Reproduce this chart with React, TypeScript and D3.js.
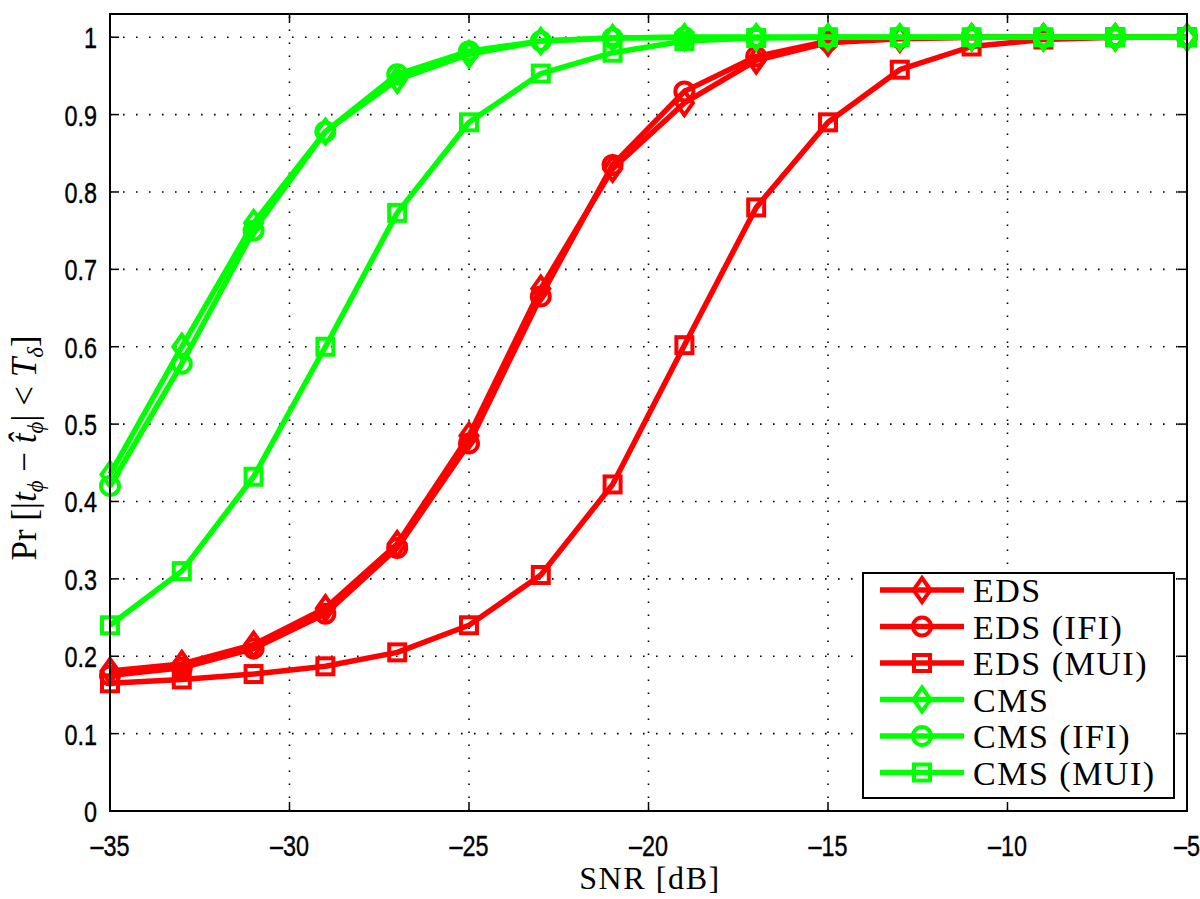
import React from "react";
import * as d3 from "d3";

const snr = [-35, -33, -31, -29, -27, -25, -23, -21, -19, -17, -15, -13, -11, -9, -7, -5];
const eds = [0.181, 0.19, 0.215, 0.262, 0.345, 0.485, 0.675, 0.83, 0.915, 0.97, 0.993, 0.998, 1, 1, 1, 1];
const edsIfi = [0.175, 0.185, 0.21, 0.255, 0.34, 0.475, 0.665, 0.835, 0.93, 0.975, 0.995, 0.999, 1, 1, 1, 1];
const edsMui = [0.165, 0.17, 0.177, 0.187, 0.205, 0.24, 0.305, 0.422, 0.602, 0.78, 0.89, 0.958, 0.988, 0.997, 1, 1];
const cms = [0.435, 0.6, 0.76, 0.878, 0.945, 0.978, 0.995, 0.999, 1, 1, 1, 1, 1, 1, 1, 1];
const cmsIfi = [0.42, 0.578, 0.75, 0.878, 0.952, 0.982, 0.995, 0.999, 1, 1, 1, 1, 1, 1, 1, 1];
const cmsMui = [0.24, 0.31, 0.432, 0.6, 0.773, 0.89, 0.953, 0.98, 0.995, 0.999, 1, 1, 1, 1, 1, 1];

const xTicks = [-35, -30, -25, -20, -15, -10, -5];
const yTicks = [0, 0.1, 0.2, 0.3, 0.4, 0.5, 0.6, 0.7, 0.8, 0.9, 1];

const seriesNames = ["EDS", "EDS (IFI)", "EDS (MUI)", "CMS", "CMS (IFI)", "CMS (MUI)"];
const seriesValues = [eds, edsIfi, edsMui, cms, cmsIfi, cmsMui];
const seriesColors = ["#ff0000", "#ff0000", "#ff0000", "#00ff00", "#00ff00", "#00ff00"];
const seriesMarkers = ["diamond", "circle", "square", "diamond", "circle", "square"];

const W = 1200, H = 899;
const L = 110, R = 1187, T = 14, B = 811;

function Marker({ kind, x, y, color }: { kind: string; x: number; y: number; color: string }) {
  const sw = 4;
  if (kind === "diamond") {
    const p = `M${x},${y - 12}L${x + 8.5},${y}L${x},${y + 12}L${x - 8.5},${y}Z`;
    return <path d={p} fill="none" stroke={color} strokeWidth={sw} strokeLinejoin="miter" />;
  }
  if (kind === "circle") {
    return <circle cx={x} cy={y} r={9} fill="none" stroke={color} strokeWidth={sw} />;
  }
  return <rect x={x - 8} y={y - 8} width={16} height={16} fill="none" stroke={color} strokeWidth={sw} />;
}

export default function App() {
  const x = d3.scaleLinear().domain([-35, -5]).range([L, R]);
  const y = d3.scaleLinear().domain([0, 1.03]).range([B, T]);
  const line = d3.line<number>().x((_, i) => x(snr[i])).y((d) => y(d));

  const legX0 = 863, legY0 = 573, legW = 311, legH = 225;
  const rowY = (i: number) => 590 + i * 36.5;
  const serif = "'Liberation Serif', 'Times New Roman', serif";

  return (
    <svg width={W} height={H} style={{ position: "absolute", left: 0, top: 0, background: "#fff" }}>
      <rect x={0} y={0} width={W} height={H} fill="#fff" />
      {/* grid */}
      <g stroke="#000" strokeWidth={1.6} strokeDasharray="1.6,11.4">
        {xTicks.slice(1, -1).map((t) => (
          <line key={"gx" + t} x1={x(t)} x2={x(t)} y1={B} y2={T} />
        ))}
        {yTicks.slice(1).map((t) => (
          <line key={"gy" + t} x1={L} x2={R} y1={y(t)} y2={y(t)} />
        ))}
      </g>
      {/* ticks */}
      <g stroke="#000" strokeWidth={1.5}>
        {xTicks.map((t) => (
          <g key={"tx" + t}>
            <line x1={x(t)} x2={x(t)} y1={B} y2={B - 9} />
            <line x1={x(t)} x2={x(t)} y1={T} y2={T + 9} />
          </g>
        ))}
        {yTicks.map((t) => (
          <g key={"ty" + t}>
            <line x1={L} x2={L + 9} y1={y(t)} y2={y(t)} />
            <line x1={R} x2={R - 9} y1={y(t)} y2={y(t)} />
          </g>
        ))}
      </g>
      {/* series */}
      {seriesValues.map((vals, si) => (
        <g key={"s" + si}>
          <path d={line(vals) || ""} fill="none" stroke={seriesColors[si]} strokeWidth={5.5} strokeLinejoin="round" />
          {vals.map((v, i) => (
            <Marker key={i} kind={seriesMarkers[si]} x={x(snr[i])} y={y(v)} color={seriesColors[si]} />
          ))}
        </g>
      ))}
      {/* axes box */}
      <rect x={L} y={T} width={R - L} height={B - T} fill="none" stroke="#000" strokeWidth={2} />
      {/* tick labels */}
      <g fontFamily="'Liberation Sans', Arial, sans-serif" fontSize={30} fill="#000" stroke="#000" strokeWidth={0.4}>
        {yTicks.map((t) => (
          <text key={"ly" + t} transform={`translate(97,${y(t) + 11}) scale(0.78,1)`} textAnchor="end">
            {String(t)}
          </text>
        ))}
        {xTicks.map((t) => (
          <text key={"lx" + t} transform={`translate(${x(t)},${B + 45}) scale(0.78,1)`} textAnchor="middle">
            {t < 0 ? "\u2013" + Math.abs(t) : String(t)}
          </text>
        ))}
      </g>
      {/* axis labels */}
      <text x={650} y={889} textAnchor="middle" fontFamily={serif} fontSize={32} letterSpacing={1.6}>
        SNR [dB]
      </text>
      <text transform="translate(36,448) rotate(-90)" textAnchor="middle" fontFamily={serif} fontSize={35}>
        <tspan>Pr [|</tspan>
        <tspan fontStyle="italic">t</tspan>
        <tspan fontStyle="italic" fontSize={23} dy={7}>ϕ</tspan>
        <tspan dy={-7}> − </tspan>
        <tspan fontStyle="italic">t̂</tspan>
        <tspan fontStyle="italic" fontSize={23} dy={7}>ϕ</tspan>
        <tspan dy={-7}>| &lt; </tspan>
        <tspan fontStyle="italic">T</tspan>
        <tspan fontStyle="italic" fontSize={23} dy={7}>δ</tspan>
        <tspan dy={-7}>]</tspan>
      </text>
      {/* legend */}
      <rect x={legX0} y={legY0} width={legW} height={legH} fill="#fff" stroke="#000" strokeWidth={2} />
      {seriesNames.map((n, i) => (
        <g key={"lg" + i}>
          <line x1={880} x2={964} y1={rowY(i)} y2={rowY(i)} stroke={seriesColors[i]} strokeWidth={5.5} />
          <Marker kind={seriesMarkers[i]} x={922} y={rowY(i)} color={seriesColors[i]} />
          <text x={973} y={rowY(i) + 12} fontFamily={serif} fontSize={34} letterSpacing={1.5}>
            {n}
          </text>
        </g>
      ))}
    </svg>
  );
}
